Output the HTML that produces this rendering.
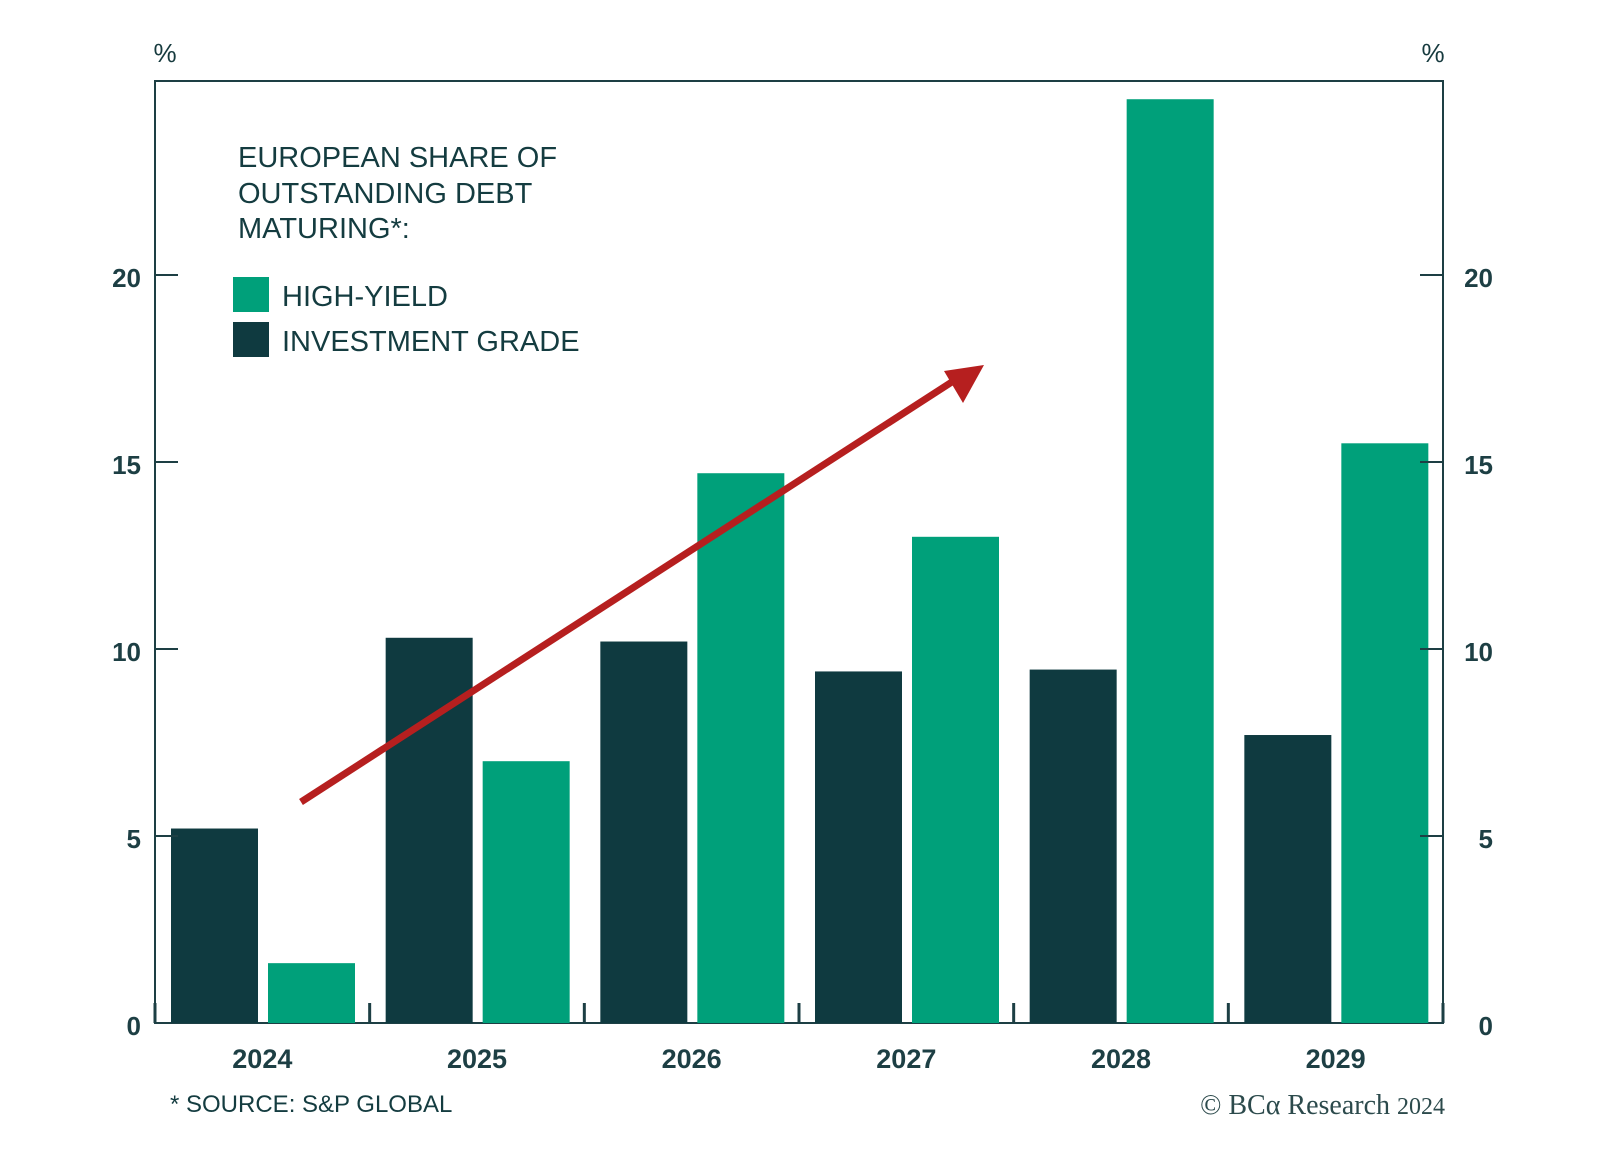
<!DOCTYPE html>
<html><head><meta charset="utf-8"><style>
html,body{margin:0;padding:0;background:#fff;}
svg{display:block;font-family:"Liberation Sans",sans-serif;}
</style></head><body>
<svg id="chart" width="1600" height="1168">
<rect x="155" y="81" width="1288" height="942" fill="none" stroke="#1d3f44" stroke-width="2"/>
<g id="bars"></g><g id="axes"></g>
<text x="165" y="62" font-size="26" fill="#163a3e" text-anchor="middle">%</text>
<text x="1433" y="62" font-size="26" fill="#163a3e" text-anchor="middle">%</text>
<g font-size="29" fill="#143c40">
<text x="238" y="167">EUROPEAN SHARE OF</text>
<text x="238" y="203">OUTSTANDING DEBT</text>
<text x="238" y="238">MATURING*:</text></g>
<rect x="233" y="277" width="36" height="35" fill="#00a07a"/>
<text x="282" y="306" font-size="29" fill="#143c40">HIGH-YIELD</text>
<rect x="233" y="322" width="36" height="35" fill="#0f3a40"/>
<text x="282" y="351" font-size="29" fill="#143c40">INVESTMENT GRADE</text>
<line x1="301" y1="802" x2="958" y2="378" stroke="#b61f1f" stroke-width="7"/>
<polygon points="984,365 944,371 963,403" fill="#b61f1f"/>
<text x="170" y="1112" font-size="24" fill="#143c40">* SOURCE: S&amp;P GLOBAL</text>
<text x="1445" y="1114" font-size="28" fill="#2c4a4c" text-anchor="end" font-family="Liberation Serif,serif">© BCα Research <tspan font-size="24">2024</tspan></text>
</svg>
<script>
const categories=["2024","2025","2026","2027","2028","2029"];
const investmentGrade=[5.2,10.3,10.2,9.4,9.45,7.7];
const highYield=[1.6,7.0,14.7,13.0,24.7,15.5];
const yTicks=[0,5,10,15,20];
const NS="http://www.w3.org/2000/svg";
const L=155,R=1443,B=1023,PX=37.4;
const cw=(R-L)/categories.length;
const y=v=>B-v*PX;
const xc=i=>L+i*cw;
const bars=document.getElementById('bars'),axes=document.getElementById('axes');
function mk(p,tag,a){const e=document.createElementNS(NS,tag);for(const k in a)e.setAttribute(k,a[k]);p.appendChild(e);return e;}
categories.forEach((c,i)=>{
 const b1=mk(bars,'rect',{x:xc(i)+16,y:y(investmentGrade[i]),width:87,height:B-y(investmentGrade[i]),fill:'#0f3a40'});
 
 
 const b2=mk(bars,'rect',{x:xc(i)+113,y:y(highYield[i]),width:87,height:B-y(highYield[i]),fill:'#00a07a'});
 
 
 const t=mk(axes,'text',{x:xc(i)+cw/2,y:1068,'font-size':27,'font-weight':'bold',fill:'#1d3f44','text-anchor':'middle'});
 t.textContent=c;
 
 
});
for(let i=0;i<=categories.length;i++){
 const tk=mk(axes,'line',{x1:xc(i),x2:xc(i),y1:B,y2:B-20,stroke:'#1d3f44','stroke-width':3});
 
 
}
yTicks.forEach(v=>{
 if(v>0){
 const a=mk(axes,'line',{x1:L,x2:L+23,y1:y(v),y2:y(v),stroke:'#1d3f44','stroke-width':2});
 
 
 const b=mk(axes,'line',{x1:R-23,x2:R,y1:y(v),y2:y(v),stroke:'#1d3f44','stroke-width':2});
 
 }
 const l=mk(axes,'text',{x:141,y:y(v)+12,'font-size':26,'font-weight':'bold',fill:'#1d3f44','text-anchor':'end'});
 l.textContent=v;
 
 
 const r=mk(axes,'text',{x:1493,y:y(v)+12,'font-size':26,'font-weight':'bold',fill:'#1d3f44','text-anchor':'end'});
 r.textContent=v;
 
 
});
</script>
</body></html>
